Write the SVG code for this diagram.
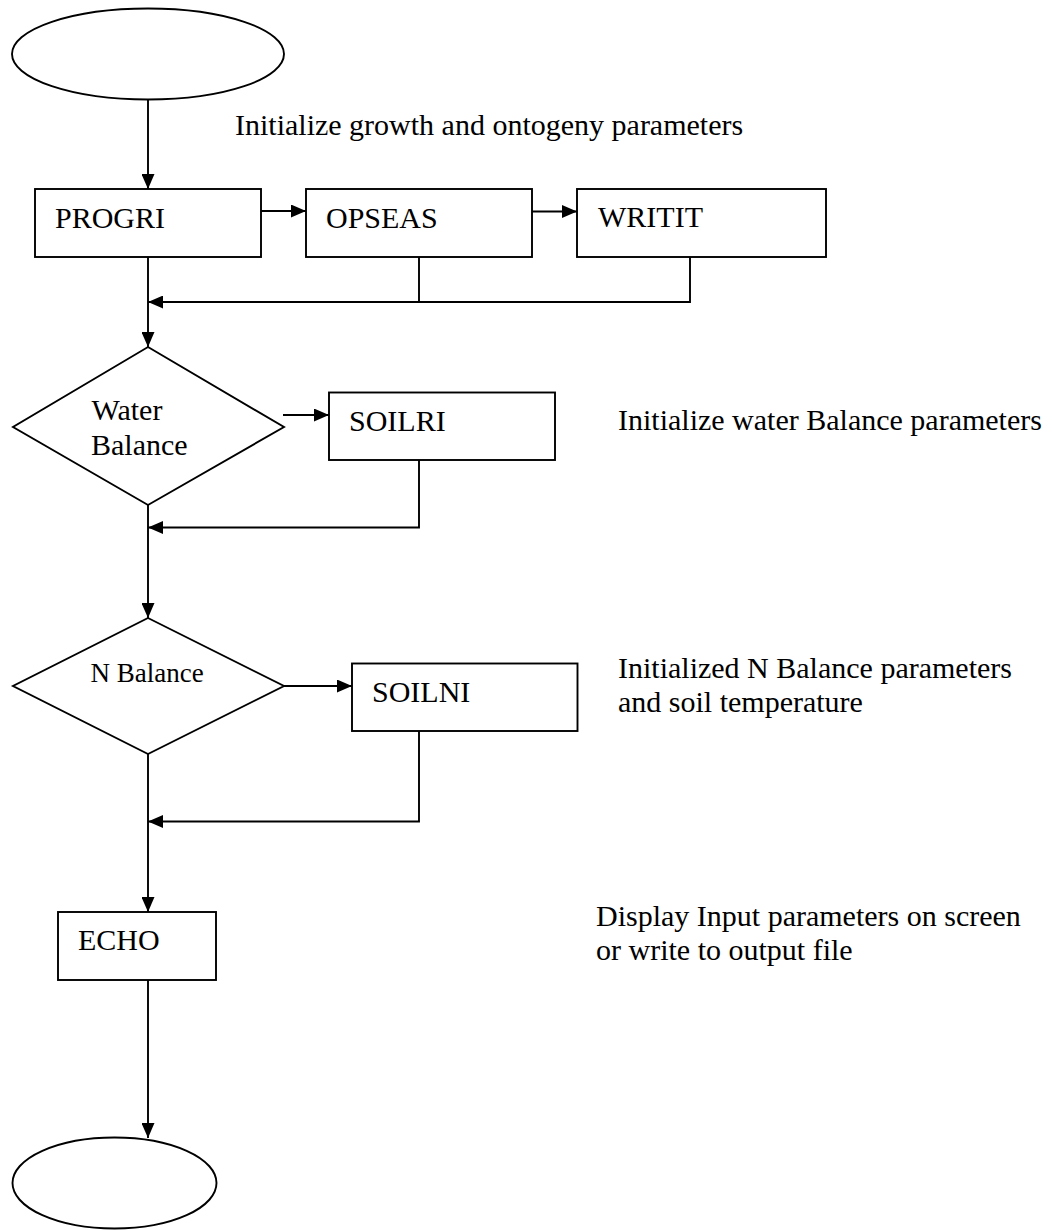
<svg xmlns="http://www.w3.org/2000/svg" width="1052" height="1230" viewBox="0 0 1052 1230">
<style>
.s{fill:#fff;stroke:#000;stroke-width:1.9}
.c{fill:none;stroke:#000;stroke-width:1.9}
text{font-family:"Liberation Serif","Times New Roman",serif;font-size:30px;fill:#000}
.sm{font-size:27px}
</style>
<defs>
<marker id="ah" viewBox="0 0 15 13" markerWidth="15" markerHeight="13" refX="15" refY="6.5" orient="auto" markerUnits="userSpaceOnUse">
<path d="M0,0 L15,6.5 L0,13 z" fill="#000"/>
</marker>
</defs>
<rect width="1052" height="1230" fill="#fff"/>
<g id="connectors">
<line class="c" x1="148" y1="99" x2="148" y2="189" marker-end="url(#ah)"/>
<line class="c" x1="261" y1="211" x2="306" y2="211" marker-end="url(#ah)"/>
<line class="c" x1="532" y1="211.5" x2="577" y2="211.5" marker-end="url(#ah)"/>
<line class="c" x1="148" y1="257" x2="148" y2="347" marker-end="url(#ah)"/>
<polyline class="c" points="419,257 419,302"/>
<polyline class="c" points="690,257 690,302 148,302" marker-end="url(#ah)"/>
<line class="c" x1="283" y1="415" x2="329" y2="415" marker-end="url(#ah)"/>
<polyline class="c" points="419,460 419,527.5 148,527.5" marker-end="url(#ah)"/>
<line class="c" x1="148" y1="505" x2="148" y2="618" marker-end="url(#ah)"/>
<line class="c" x1="284" y1="686" x2="352" y2="686" marker-end="url(#ah)"/>
<polyline class="c" points="419,731 419,821.5 148,821.5" marker-end="url(#ah)"/>
<line class="c" x1="148" y1="754" x2="148" y2="912" marker-end="url(#ah)"/>
<line class="c" x1="148" y1="980" x2="148" y2="1138" marker-end="url(#ah)"/>
</g>
<g id="start"><ellipse class="s" cx="148" cy="54" rx="136" ry="45.5"/></g>
<g id="note1"><text x="235" y="135">Initialize growth and ontogeny parameters</text></g>
<g id="progri"><rect class="s" x="35" y="189" width="226" height="68"/><text x="55" y="228">PROGRI</text></g>
<g id="opseas"><rect class="s" x="306" y="189" width="226" height="68"/><text x="326" y="228">OPSEAS</text></g>
<g id="writit"><rect class="s" x="577" y="189" width="249" height="68"/><text x="598" y="227">WRITIT</text></g>
<g id="water"><polygon class="s" points="148,347 284,427 148,505 13,427"/><text x="91.5" y="420">Water</text><text x="91" y="455">Balance</text></g>
<g id="soilri"><rect class="s" x="329" y="392.5" width="226" height="67.5"/><text x="349" y="431">SOILRI</text></g>
<g id="note2"><text x="618" y="430">Initialize water Balance parameters</text></g>
<g id="nbal"><polygon class="s" points="148,618 284,686 148,754 13,686"/><text class="sm" x="90.5" y="682">N Balance</text></g>
<g id="soilni"><rect class="s" x="352" y="663.5" width="225.5" height="67.5"/><text x="372" y="702">SOILNI</text></g>
<g id="note3"><text x="618" y="678">Initialized N Balance parameters</text><text x="618" y="712">and soil temperature</text></g>
<g id="echo"><rect class="s" x="58" y="912" width="158" height="68"/><text x="78" y="950">ECHO</text></g>
<g id="note4"><text x="596" y="926">Display Input parameters on screen</text><text x="596" y="960">or write to output file</text></g>
<g id="end"><ellipse class="s" cx="114.5" cy="1183" rx="102" ry="45.5"/></g>
</svg>
